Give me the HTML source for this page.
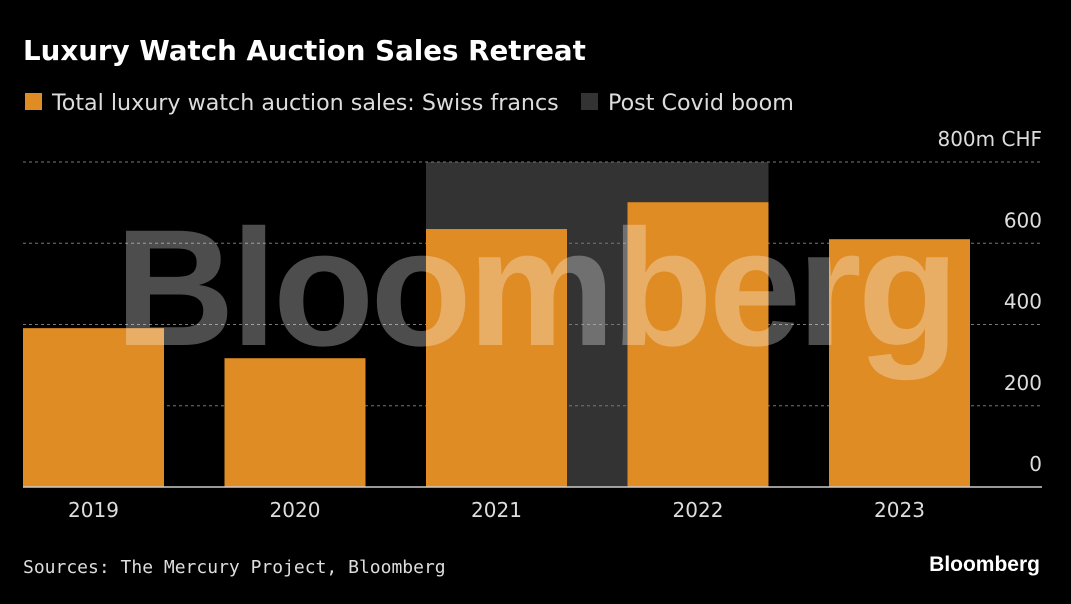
<!DOCTYPE html>
<html><head><meta charset="utf-8"><style>
body{margin:0;background:#000;width:1071px;height:600px;overflow:hidden;font-family:"DejaVu Sans","Liberation Sans",sans-serif;color:#fff}
</style></head><body>
<svg width="1071" height="600" xmlns="http://www.w3.org/2000/svg" font-family="DejaVu Sans, Liberation Sans, sans-serif">
<rect width="1071" height="600" fill="#000"/>
<text x="23" y="60" font-size="27.7" font-weight="bold" fill="#fff">Luxury Watch Auction Sales Retreat</text>
<g>
<rect x="25" y="93" width="17" height="17" fill="#e08c24"/>
<text x="52" y="110" font-size="22.2" fill="#ddd">Total luxury watch auction sales: Swiss francs</text>
<rect x="581" y="93" width="17" height="17" fill="#333"/>
<text x="608" y="110" font-size="22.2" fill="#ddd">Post Covid boom</text>
</g>
<g id="plot"></g>
<text x="23" y="573" font-size="18" fill="#ddd" font-family="DejaVu Sans Mono, Liberation Mono, monospace">Sources: The Mercury Project, Bloomberg</text>
<text x="1040" y="571" font-size="21" font-weight="bold" fill="#fff" text-anchor="end" font-family="Liberation Sans, sans-serif">Bloomberg</text>
</svg>
<script>
const categories=["2019","2020","2021","2022","2023"];
const sales=[391,317,635,701,610];
const ticks=[0,200,400,600,800];
const tickLabels=["0","200","400","600","800m CHF"];
const boomRange=["2021","2022"];
const NS="http://www.w3.org/2000/svg";
const g=document.getElementById("plot");
const y0=487,yTop=162,vMax=800;
const y=v=>y0-(v/vMax)*(y0-yTop);
const x=i=>23+i*201.5;const bw=141;
function mk(t,a){const e=document.createElementNS(NS,t);for(const k in a)e.setAttribute(k,a[k]);g.appendChild(e);return e;}
const i0=categories.indexOf(boomRange[0]),i1=categories.indexOf(boomRange[1]);
const sh=mk("rect",{x:x(i0),y:y(800),width:x(i1)+bw-x(i0),height:y0-y(800),fill:"#333"});


ticks.forEach((t,i)=>{
 if(t>0){const l=mk("line",{x1:23,x2:1042,y1:y(t),y2:y(t),stroke:"#777","stroke-dasharray":"3,3"});
 
 }
 const tx=mk("text",{x:1042,y:y(t)-16,"font-size":20,fill:"#ddd","text-anchor":"end"});
 tx.textContent=tickLabels[i];
 
 
});
sales.forEach((v,i)=>{
 const r=mk("rect",{x:x(i),y:y(v),width:bw,height:y0-y(v),fill:"#e08c24"});
 
 
 const t=mk("text",{x:x(i)+bw/2,y:517,"font-size":20,fill:"#ddd","text-anchor":"middle"});
 t.textContent=categories[i];
 
 
});
const ax=mk("line",{x1:23,x2:1042,y1:y0,y2:y0,stroke:"#ccc","stroke-width":1.5});


const wm=mk("text",{x:535,y:345,"font-size":166,"font-weight":"bold","font-family":"Liberation Sans, sans-serif",fill:"#fff","fill-opacity":0.3,"text-anchor":"middle","letter-spacing":"-4"});
wm.textContent="Bloomberg";


</script>
</body></html>
